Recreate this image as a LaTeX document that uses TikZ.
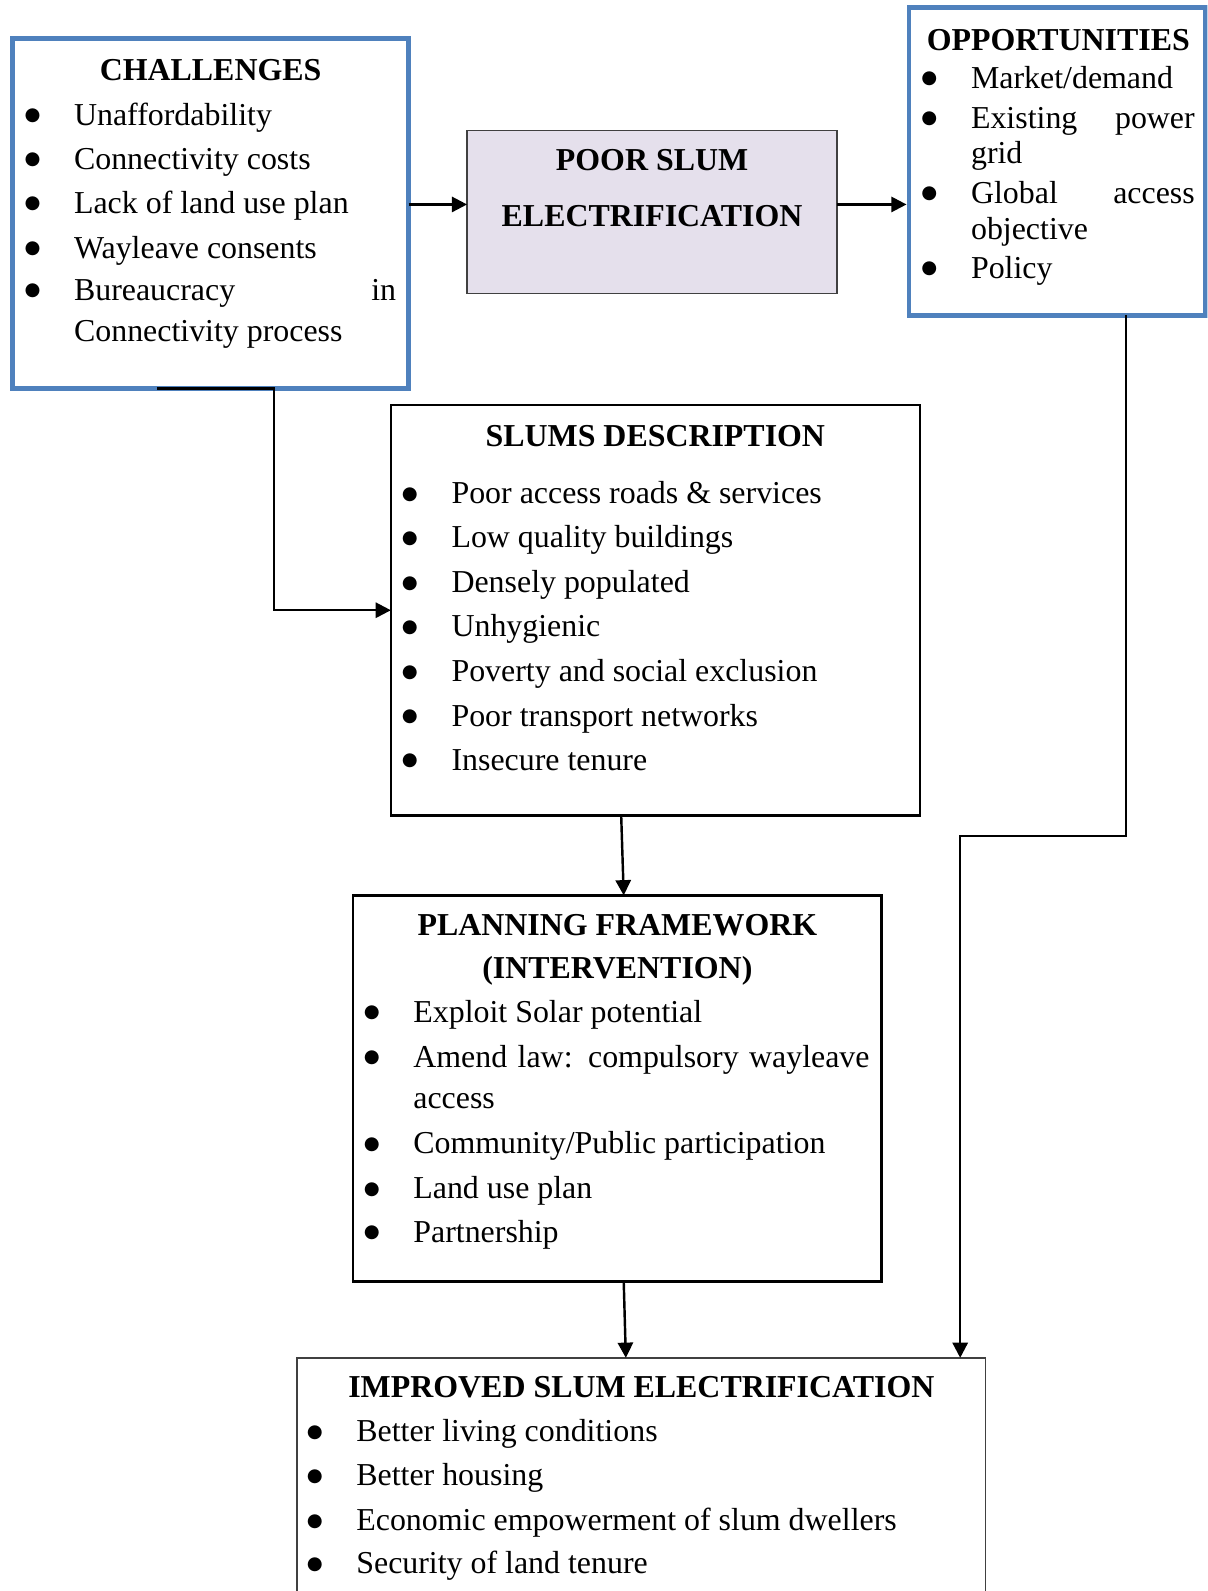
\documentclass[tikz,border=0pt]{standalone}
\usepackage{fontspec}
\setmainfont{Liberation Serif}
\newfontfamily\dvfont{DejaVu Sans}
\usetikzlibrary{arrows.meta,calc}
\definecolor{bluebd}{HTML}{4F81BD}
\definecolor{lav}{HTML}{E5E0EC}
\definecolor{dgray}{HTML}{404040}
\newcommand\bul{\makebox[0pt]{\raisebox{2.2pt}{\dvfont\fontsize{9pt}{10pt}\selectfont ●}}\hspace{20.5pt}}
\newcommand\jst[2]{\makebox[#1][s]{#2}}
\begin{document}
\begin{tikzpicture}[x=0.5pt,y=-0.5pt,
  every node/.style={font=\fontsize{15.72pt}{19pt}\selectfont, inner sep=0pt, outer sep=0pt},
  txt/.style={anchor=base west, text height=11pt, text depth=3pt},
  ttl/.style={anchor=base, text height=11pt, text depth=3pt, font=\fontsize{15.72pt}{19pt}\selectfont\bfseries},
  bluebox/.style={draw=bluebd, line width=2.4pt, rectangle},
  blackbox/.style={draw=black, line width=1.2pt, rectangle},
  thinbox/.style={draw=dgray, line width=0.7pt, rectangle},
  arr/.style={draw=black, line width=1.2pt, -{Triangle[length=7.5pt,width=7.5pt]}},
  ln/.style={draw=black, line width=1.2pt}]
\useasboundingbox (0,0) rectangle (1190,1568);
\clip (0,0) rectangle (1190,1568);

% boxes
\node[bluebox, minimum width=195.05pt, minimum height=172.5pt] (chal) at (207.55,210.5) {};
\node[thinbox, fill=lav, minimum width=182.35pt, minimum height=80.2pt] (poor) at (642.65,209) {};
\node[bluebox, minimum width=145.95pt, minimum height=151.7pt] (opp) at (1041.75,158.9) {};
\node[blackbox, minimum width=260.65pt, minimum height=202.1pt] (slums) at (645.85,601.4) {};
\node[blackbox, minimum width=260.45pt, minimum height=190.3pt] (plan) at (608.45,1072.7) {};
\node[thinbox, minimum width=339.4pt, minimum height=140pt] (imp) at (632.1,1478.2) {};

% challenges text
\node[ttl] (chal-t) at (207.55,79.5) {CHALLENGES};
\node[txt] (chal-1) at (32,123.3) {\bul Unaffordability};
\node[txt] (chal-2) at (32,166.9) {\bul Connectivity costs};
\node[txt] (chal-3) at (32,210.3) {\bul Lack of land use plan};
\node[txt] (chal-4) at (32,254.7) {\bul Wayleave consents};
\node[txt] (chal-5) at (32,295.8) {\bul \jst{158.7pt}{Bureaucracy\hfill in}};
\node[txt] (chal-6) at (73,336.9) {Connectivity process};

% poor slum text
\node[ttl] (poor-1) at (642.65,168.3) {POOR SLUM};
\node[ttl] (poor-2) at (642.65,222.8) {ELECTRIFICATION};

% opportunities text
\node[ttl] (opp-t) at (1043,49.3) {OPPORTUNITIES};
\node[txt] (opp-1) at (916,87.1) {\bul Market/demand};
\node[txt] (opp-2) at (916,126.5) {\bul \jst{110.25pt}{Existing\hfill power}};
\node[txt] (opp-3) at (957,161) {grid};
\node[txt] (opp-4) at (916,200.5) {\bul \jst{110.25pt}{Global\hfill access}};
\node[txt] (opp-5) at (957,236) {objective};
\node[txt] (opp-6) at (916,274.4) {\bul Policy};

% slums text
\node[ttl] (slums-t) at (645.85,439.7) {SLUMS DESCRIPTION};
\node[txt] (slums-1) at (404,496.2) {\bul Poor access roads \& services};
\node[txt] (slums-2) at (404,540) {\bul Low quality buildings};
\node[txt] (slums-3) at (404,584.3) {\bul Densely populated};
\node[txt] (slums-4) at (404,627.7) {\bul Unhygienic};
\node[txt] (slums-5) at (404,672) {\bul Poverty and social exclusion};
\node[txt] (slums-6) at (404,715.8) {\bul Poor transport networks};
\node[txt] (slums-7) at (404,759.2) {\bul Insecure tenure};

% planning text
\node[ttl] (plan-t1) at (608.45,921.8) {PLANNING FRAMEWORK};
\node[ttl] (plan-t2) at (608.45,964.5) {(INTERVENTION)};
\node[txt] (plan-1) at (366.4,1007.3) {\bul Exploit Solar potential};
\node[txt] (plan-2) at (366.4,1051.6) {\bul \jst{224.8pt}{Amend law: compulsory wayleave}};
\node[txt] (plan-3) at (407.4,1092.7) {access};
\node[txt] (plan-4) at (366.4,1137.1) {\bul Community/Public participation};
\node[txt] (plan-5) at (366.4,1181.5) {\bul Land use plan};
\node[txt] (plan-6) at (366.4,1224.2) {\bul Partnership};

% improved text
\node[ttl] (imp-t) at (632.1,1377) {IMPROVED SLUM ELECTRIFICATION};
\node[txt] (imp-1) at (310.2,1420.7) {\bul Better living conditions};
\node[txt] (imp-2) at (310.2,1464.1) {\bul Better housing};
\node[txt] (imp-3) at (310.2,1508.5) {\bul Economic empowerment of slum dwellers};
\node[txt] (imp-4) at (310.2,1551.2) {\bul Security of land tenure};

% connectors
\coordinate (ay) at (430,201.5);
\draw[arr] (chal.east |- ay) -- (poor.west |- ay);
\draw[arr, shorten >=1.2pt] (poor.east |- ay) -- (opp.west |- ay);

\coordinate (c5) at ($(chal.south)+(-53.05,0)$);
\draw[arr] (c5) -- ++(115.5,0) |- (slums.west);

\coordinate (s3) at ($(slums.south)+(-33.65,0)$);
\coordinate (e3) at ($(plan.north)+(6.25,0)$);
\draw[arr] (s3) -- (e3);

\coordinate (s4) at ($(plan.south)+(6.25,0)$);
\coordinate (e4) at ($(imp.north)+(-15.3,0)$);
\draw[arr] (s4) -- (e4);

\coordinate (o6) at ($(opp.south)+(67.95,0)$);
\coordinate (k6) at (946.3,823.9);
\draw[arr] (o6) |- (k6) -- (imp.north -| k6);
\end{tikzpicture}
\end{document}
